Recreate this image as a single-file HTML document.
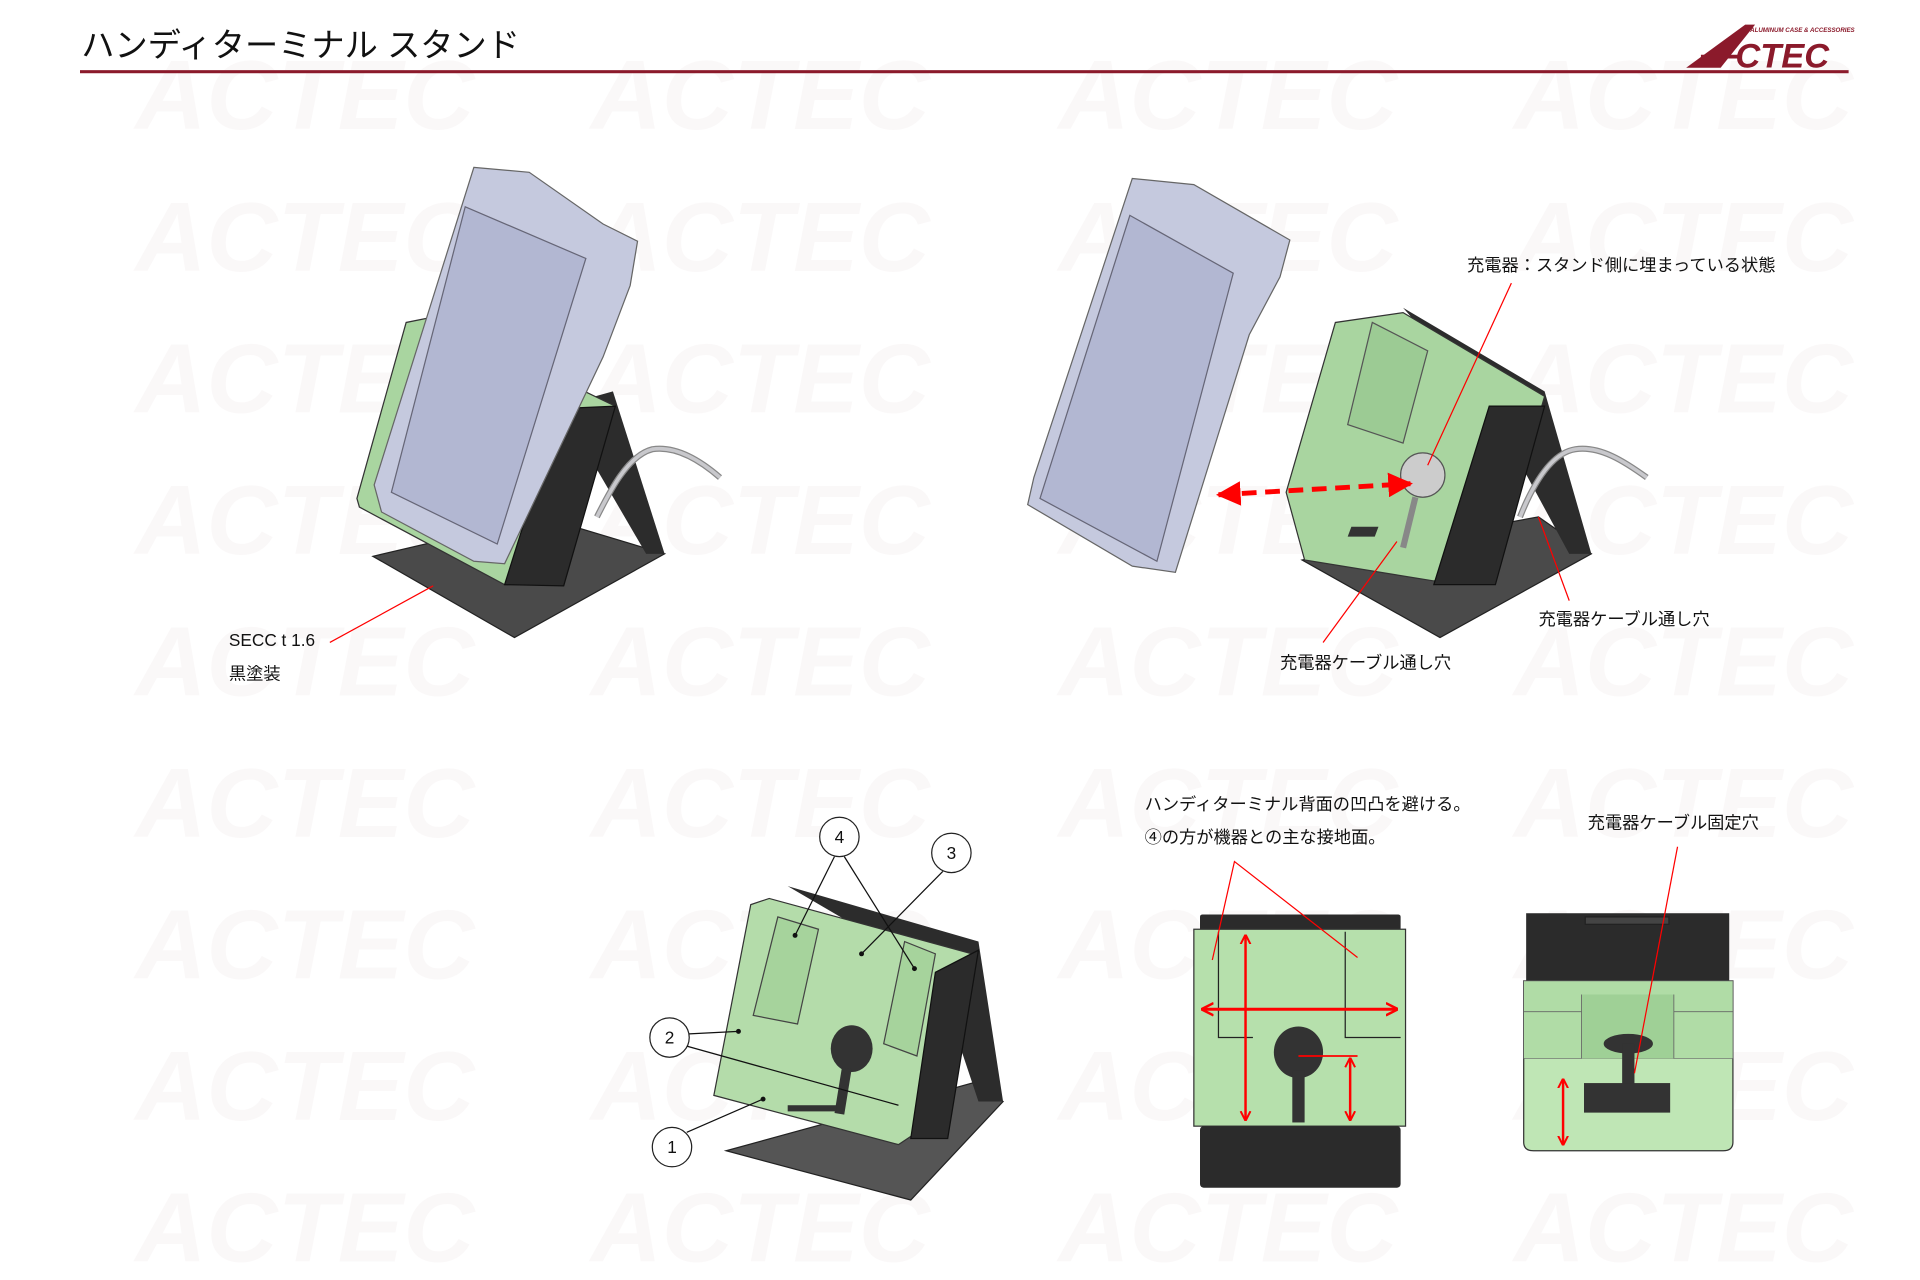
<!DOCTYPE html>
<html><head><meta charset="utf-8"><style>
html,body{margin:0;padding:0;background:#fff;}
svg{display:block;}
text{font-family:"Liberation Sans","Noto Sans CJK JP",sans-serif;fill:#111;}
</style></head><body>
<svg width="1920" height="1280" viewBox="0 0 1560 1040" xmlns="http://www.w3.org/2000/svg">
<defs>
<marker id="ah" viewBox="0 0 10 10" refX="9" refY="5" markerWidth="5" markerHeight="5" orient="auto-start-reverse"><path d="M0,0 L10,5 L0,10 z" fill="#f00"/></marker>
<marker id="ah2" viewBox="0 0 10 10" refX="9" refY="5" markerWidth="4" markerHeight="6" orient="auto-start-reverse"><path d="M0,0 L10,5 L0,10" fill="none" stroke="#f00" stroke-width="2"/></marker>
</defs>
<!-- faint watermarks -->
<g font-style="italic" font-weight="bold" font-size="80" style="opacity:0.35">
<text x="110" y="105" style="fill:#f3eced">ACTEC</text><text x="480" y="105" style="fill:#f3eced">ACTEC</text><text x="860" y="105" style="fill:#f3eced">ACTEC</text><text x="1230" y="105" style="fill:#f3eced">ACTEC</text>
<text x="110" y="220" style="fill:#f3eced">ACTEC</text><text x="480" y="220" style="fill:#f3eced">ACTEC</text><text x="860" y="220" style="fill:#f3eced">ACTEC</text><text x="1230" y="220" style="fill:#f3eced">ACTEC</text>
<text x="110" y="335" style="fill:#f3eced">ACTEC</text><text x="480" y="335" style="fill:#f3eced">ACTEC</text><text x="860" y="335" style="fill:#f3eced">ACTEC</text><text x="1230" y="335" style="fill:#f3eced">ACTEC</text>
<text x="110" y="450" style="fill:#f3eced">ACTEC</text><text x="480" y="450" style="fill:#f3eced">ACTEC</text><text x="860" y="450" style="fill:#f3eced">ACTEC</text><text x="1230" y="450" style="fill:#f3eced">ACTEC</text>
<text x="110" y="565" style="fill:#f3eced">ACTEC</text><text x="480" y="565" style="fill:#f3eced">ACTEC</text><text x="860" y="565" style="fill:#f3eced">ACTEC</text><text x="1230" y="565" style="fill:#f3eced">ACTEC</text>
<text x="110" y="680" style="fill:#f3eced">ACTEC</text><text x="480" y="680" style="fill:#f3eced">ACTEC</text><text x="860" y="680" style="fill:#f3eced">ACTEC</text><text x="1230" y="680" style="fill:#f3eced">ACTEC</text>
<text x="110" y="795" style="fill:#f3eced">ACTEC</text><text x="480" y="795" style="fill:#f3eced">ACTEC</text><text x="860" y="795" style="fill:#f3eced">ACTEC</text><text x="1230" y="795" style="fill:#f3eced">ACTEC</text>
<text x="110" y="910" style="fill:#f3eced">ACTEC</text><text x="480" y="910" style="fill:#f3eced">ACTEC</text><text x="860" y="910" style="fill:#f3eced">ACTEC</text><text x="1230" y="910" style="fill:#f3eced">ACTEC</text>
<text x="110" y="1025" style="fill:#f3eced">ACTEC</text><text x="480" y="1025" style="fill:#f3eced">ACTEC</text><text x="860" y="1025" style="fill:#f3eced">ACTEC</text><text x="1230" y="1025" style="fill:#f3eced">ACTEC</text>
</g>

<!-- header -->
<text x="66" y="46" font-size="27">ハンディターミナル スタンド</text>
<rect x="65" y="57" width="1437" height="2.5" fill="#8b1a2b"/>
<text x="1422" y="26" font-size="5" font-weight="bold" font-style="italic" style="fill:#8b1a2b">ALUMINUM CASE &amp; ACCESSORIES</text>
<path d="M1370,55 L1418,20 L1426,20 L1398,55 z" fill="#8b1a2b"/>
<path d="M1382,46 L1414,46" stroke="#8b1a2b" stroke-width="3"/>
<text x="1410" y="55" font-size="28" font-weight="bold" font-style="italic" style="fill:#8b1a2b">CTEC</text>

<!-- FIG 1 -->
<path d="M303,452 L440,420 L540,450 L418,518 z" fill="#4a4a4a" stroke="#222"/>
<path d="M455,330 L498,318 L540,450 L525,450 z" fill="#2c2c2c"/>
<path d="M485,420 C495,400 510,370 530,365 C550,362 570,375 585,388" fill="none" stroke="#888" stroke-width="5"/>
<path d="M485,420 C495,400 510,370 530,365 C550,362 570,375 585,388" fill="none" stroke="#c8c8cc" stroke-width="3"/>
<path d="M290,405 L330,262 L350,258 L500,330 L455,475 L410,475 L292,412 z" fill="#a9d5a0" stroke="#333"/>
<path d="M410,475 L455,332 L500,330 L458,476 z" fill="#2b2b2b" stroke="#111"/>
<path d="M385,136 L430,140 L490,182 L518,196 L512,232 L490,290 L410,458 L385,456 L310,416 L304,394 z" fill="#c5c9de" stroke="#666"/>
<path d="M378,168 L476,210 L404,442 L318,400 z" fill="#b2b7d2" stroke="#667"/>
<text x="186" y="525" font-size="14">SECC  t 1.6</text>
<text x="186" y="552" font-size="14">黒塗装</text>
<path d="M268,522 L352,476" stroke="#f00" stroke-width="1"/>

<!-- FIG 2 -->
<path d="M1058,455 L1250,420 L1293,450 L1170,518 z" fill="#4a4a4a" stroke="#222"/>
<path d="M1140,250 L1255,318 L1293,450 L1275,450 L1210,330 z" fill="#2c2c2c"/>
<path d="M1235,420 C1245,395 1260,368 1280,365 C1300,362 1320,375 1338,388" fill="none" stroke="#888" stroke-width="5"/>
<path d="M1235,420 C1245,395 1260,368 1280,365 C1300,362 1320,375 1338,388" fill="none" stroke="#c8c8cc" stroke-width="3"/>
<path d="M1045,400 L1085,262 L1140,254 L1255,322 L1212,470 L1165,472 L1060,455 z" fill="#a9d5a0" stroke="#333"/>
<path d="M1095,345 L1115,262 L1160,285 L1140,360 z" fill="#9ccb94" stroke="#555"/>
<path d="M1098,428 L1120,428 L1117,436 L1095,436 z" fill="#333"/>
<path d="M1165,475 L1210,330 L1255,330 L1215,475 z" fill="#2b2b2b" stroke="#111"/>
<circle cx="1156" cy="386" r="18" fill="#ccc" stroke="#555"/>
<path d="M1150,404 L1140,445" stroke="#888" stroke-width="5"/>
<path d="M920,145 L970,150 L1048,195 L1040,225 L1015,272 L955,465 L920,460 L835,410 L840,388 z" fill="#c5c9de" stroke="#666"/>
<path d="M918,175 L1002,222 L940,456 L845,405 z" fill="#b2b7d2" stroke="#667"/>
<path d="M990,402 L1146,393" stroke="#f00" stroke-width="4" stroke-dasharray="12,7" marker-start="url(#ah)" marker-end="url(#ah)"/>
<text x="1192" y="220" font-size="14">充電器：スタンド側に埋まっている状態</text>
<path d="M1228,230 L1160,378" stroke="#f00"/>
<text x="1250" y="508" font-size="14">充電器ケーブル通し穴</text>
<path d="M1275,488 L1250,420" stroke="#f00"/>
<text x="1040" y="543" font-size="14">充電器ケーブル通し穴</text>
<path d="M1075,522 L1135,440" stroke="#f00"/>

<!-- FIG 3 -->
<path d="M590,935 L790,880 L815,895 L740,975 z" fill="#555" stroke="#222"/>
<path d="M640,720 L795,765 L815,895 L795,895 L760,790 z" fill="#2c2c2c"/>
<path d="M610,735 L625,730 L790,775 L742,922 L730,930 L580,890 z" fill="#b4dcaa" stroke="#333"/>
<path d="M612,825 L632,745 L665,755 L648,832 z" fill="#a6d39c" stroke="#444"/>
<path d="M718,848 L735,765 L760,775 L745,858 z" fill="#a6d39c" stroke="#444"/>
<path d="M740,925 L760,790 L795,772 L770,925 z" fill="#2b2b2b" stroke="#111"/>
<ellipse cx="692" cy="852" rx="17" ry="19" fill="#333"/>
<path d="M688,868 L682,905" stroke="#333" stroke-width="8"/>
<rect x="640" y="898" width="40" height="5" fill="#333"/>
<g fill="#fff" stroke="#222">
<circle cx="682" cy="680" r="16"/><circle cx="773" cy="693" r="16"/><circle cx="544" cy="843" r="16"/><circle cx="546" cy="932" r="16"/></g>
<g font-size="14" text-anchor="middle"><text x="682" y="685">4</text><text x="773" y="698">3</text><text x="544" y="848">2</text><text x="546" y="937">1</text></g>
<g stroke="#111" fill="none"><path d="M678,696 L646,760"/><path d="M686,696 L743,787"/><path d="M766,708 L700,775"/><path d="M560,840 L600,838"/><path d="M558,850 L730,898"/><path d="M558,920 L620,893"/></g>
<g fill="#111"><circle cx="646" cy="760" r="2"/><circle cx="743" cy="787" r="2"/><circle cx="700" cy="775" r="2"/><circle cx="600" cy="838" r="2"/><circle cx="620" cy="893" r="2"/></g>

<!-- FIG 4 -->
<text x="930" y="658" font-size="14">ハンディターミナル背面の凹凸を避ける。</text>
<text x="930" y="685" font-size="14">④の方が機器との主な接地面。</text>
<rect x="975" y="743" width="163" height="14" rx="2" fill="#2b2b2b"/>
<rect x="970" y="755" width="172" height="160" fill="#b6e0ac" stroke="#333"/>
<rect x="975" y="915" width="163" height="50" rx="3" fill="#2b2b2b"/>
<g stroke="#222" fill="none"><path d="M990,757 L990,843 L1018,843"/><path d="M1093,757 L1093,843 L1138,843"/></g>
<ellipse cx="1055" cy="855" rx="20" ry="21" fill="#333"/>
<rect x="1050" y="870" width="10" height="42" fill="#333"/>
<g stroke="#f00" stroke-width="2" fill="none">
<path d="M1012,760 L1012,910" marker-start="url(#ah2)" marker-end="url(#ah2)"/>
<path d="M977,820 L1135,820" marker-start="url(#ah2)" marker-end="url(#ah2)" stroke-width="2.5"/>
<path d="M1097,860 L1097,910" marker-start="url(#ah2)" marker-end="url(#ah2)"/>
<path d="M1055,858 L1103,858" stroke-width="1.5"/>
</g>
<g stroke="#f00" stroke-width="1" fill="none"><path d="M985,780 L1003,700 L1103,778"/></g>

<!-- FIG 5 -->
<text x="1290" y="673" font-size="14">充電器ケーブル固定穴</text>
<rect x="1240" y="742" width="165" height="55" fill="#2b2b2b"/>
<rect x="1288" y="745" width="68" height="6" fill="#444" stroke="#222"/>
<path d="M1238,797 L1408,797 L1408,928 Q1408,935 1400,935 L1246,935 Q1238,935 1238,928 z" fill="#bfe6b5" stroke="#333"/>
<rect x="1238" y="797" width="170" height="63" fill="#b0dca6" stroke="#666" stroke-width="0.5"/>
<rect x="1285" y="808" width="75" height="52" fill="#9fd096"/>
<g stroke="#666" fill="none" stroke-width="0.7"><path d="M1238,822 L1285,822 M1360,822 L1408,822 M1285,808 L1285,860 M1360,808 L1360,860"/></g>
<ellipse cx="1323" cy="848" rx="20" ry="8" fill="#333"/>
<rect x="1318" y="848" width="10" height="34" fill="#333"/>
<rect x="1287" y="880" width="70" height="24" fill="#333"/>
<path d="M1270,877 L1270,930" stroke="#f00" stroke-width="2" marker-start="url(#ah2)" marker-end="url(#ah2)"/>
<path d="M1363,688 L1328,872" stroke="#f00"/>
</svg>
</body></html>
